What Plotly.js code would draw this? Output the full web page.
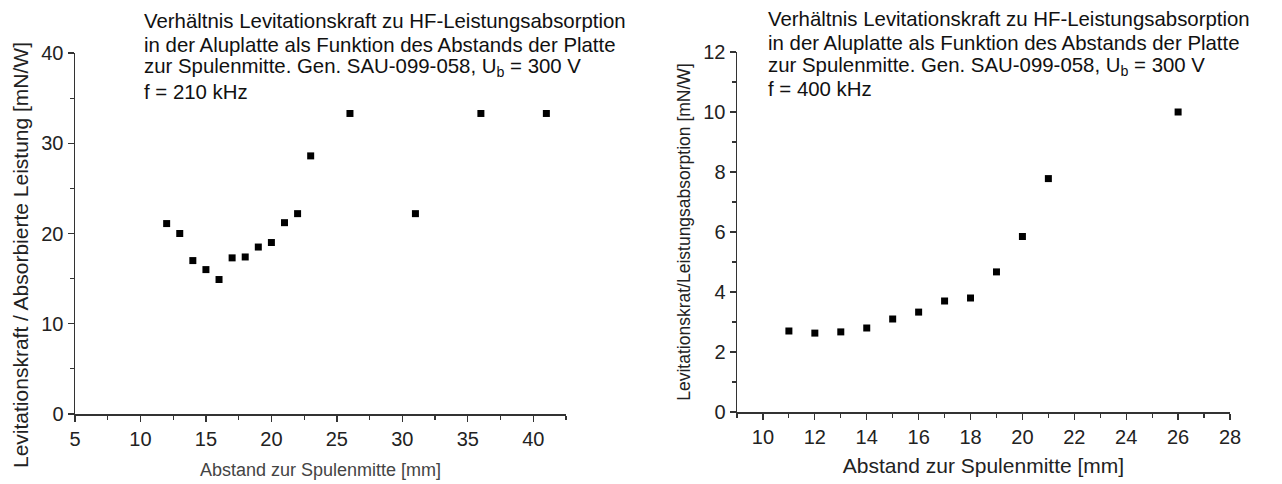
<!DOCTYPE html>
<html><head><meta charset="utf-8">
<script src="https://cdn.plot.ly/plotly-3.0.1.min.js"></script>
<style>html,body{margin:0;padding:0;background:#fff}#c{width:1282px;height:484px}</style>
</head><body><div id="c"></div>
<script>
const xLeft = [12,13,14,15,16,17,18,19,20,21,22,23,26,31,36,41];
const yLeft = [21.1,20.0,17.0,16.0,14.9,17.3,17.4,18.5,19.0,21.2,22.2,28.6,33.3,22.2,33.3,33.3];
const xRight = [11,12,13,14,15,16,17,18,19,20,21,26];
const yRight = [2.7,2.63,2.67,2.8,3.1,3.33,3.7,3.8,4.67,5.85,7.78,10.0];

const titleLines = ["Verhältnis Levitationskraft zu HF-Leistungsabsorption",
  "in der Aluplatte als Funktion des Abstands der Platte",
  "zur Spulenmitte. Gen. SAU-099-058, U<sub>b</sub> = 300 V"];
const freqLeft = "f = 210 kHz";
const freqRight = "f = 400 kHz";
const yTitleLeft = "Levitationskraft / Absorbierte Leistung [mN/W]";

const W = 1282, H = 484;
const FONT = "Liberation Sans, Arial, sans-serif";
const axCol = "#333";

function axisBase(extra){
  return Object.assign({
    showgrid:false, zeroline:false, showline:true, linecolor:axCol, linewidth:1.5,
    ticks:"outside", ticklen:6, tickwidth:1.3, tickcolor:axCol,
    tickfont:{family:FONT, size:20, color:"#222"},
    fixedrange:true
  }, extra);
}

const traces = [
  {x:xLeft, y:yLeft, type:"scatter", mode:"markers", xaxis:"x", yaxis:"y",
   marker:{symbol:"square", size:7, color:"#000"}, showlegend:false},
  {x:xRight, y:yRight, type:"scatter", mode:"markers", xaxis:"x2", yaxis:"y2",
   marker:{symbol:"square", size:7, color:"#000"}, showlegend:false}
];

const layout = {
  width:W, height:H, margin:{l:0,r:0,t:0,b:0},
  paper_bgcolor:"#fff", plot_bgcolor:"rgba(0,0,0,0)",
  font:{family:FONT, color:"#222"},
  xaxis: axisBase({domain:[75/W, 566/W], range:[5,42.5], tickmode:"linear", tick0:5, dtick:5,
    minor:{ticks:"outside", ticklen:4, tickwidth:1.2, tickcolor:axCol, dtick:2.5},
    anchor:"y",
    title:{text:"Abstand zur Spulenmitte [mm]", font:{family:FONT, size:18, color:"#444"}, standoff:15}}),
  yaxis: axisBase({domain:[(H-414)/H, (H-53)/H], range:[0,40], tickmode:"linear", tick0:0, dtick:10,
    minor:{ticks:"outside", ticklen:4, tickwidth:1.2, tickcolor:axCol, dtick:5},
    anchor:"x"}),
  xaxis2: axisBase({domain:[737/W, 1230/W], range:[9,28], tickmode:"linear", tick0:10, dtick:2,
    minor:{ticks:"outside", ticklen:4, tickwidth:1.2, tickcolor:axCol, dtick:1},
    anchor:"y2",
    title:{text:"Abstand zur Spulenmitte [mm]", font:{family:FONT, size:21, color:"#222"}, standoff:12}}),
  yaxis2: axisBase({domain:[(H-412)/H, (H-52)/H], range:[0,12], tickmode:"linear", tick0:0, dtick:2,
    minor:{ticks:"outside", ticklen:4, tickwidth:1.2, tickcolor:axCol, dtick:1},
    anchor:"x2",
    title:{text:"Levitationskrat/Leistungsabsorption [mN/W]", font:{family:FONT, size:17.5, color:"#222"}, standoff:8}}),
  annotations: [
    {xref:"paper", yref:"paper", x:21/W, y:1-255/H, xanchor:"center", yanchor:"middle",
     textangle:-90, showarrow:false, text:yTitleLeft, font:{family:FONT, size:21, color:"#222"}}
  ]
};

function addTitle(x0, y0, freq){
  const lines = titleLines.concat([freq]);
  lines.forEach((t,i)=>{
    layout.annotations.push({xref:"paper", yref:"paper", x:x0/W, y:1-(y0+i*23.5)/H,
      xanchor:"left", yanchor:"middle", showarrow:false, text:t,
      font:{family:FONT, size:20.4, color:"#111"}});
  });
}
addTitle(142, 21, freqLeft);
addTitle(766, 19, freqRight);

Plotly.newPlot("c", traces, layout, {displayModeBar:false, staticPlot:true});
</script></body></html>
